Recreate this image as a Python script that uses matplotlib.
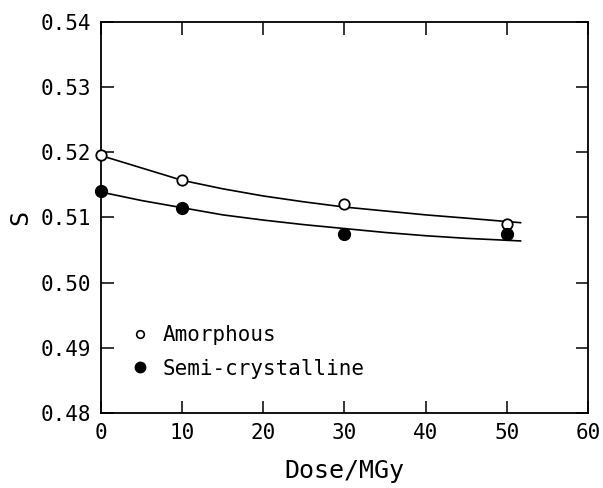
import numpy as np
import matplotlib.pyplot as plt
from matplotlib.lines import Line2D

# measured points
dose = [0, 10, 30, 50]
s_amorphous = [0.5196, 0.5158, 0.5121, 0.5090]
s_semi = [0.5141, 0.5115, 0.5075, 0.5074]

# fitted curves
fit_dose = [0, 5, 10, 15, 20, 25, 30, 35, 40, 45, 51.7]
fit_amorphous = [0.5195, 0.5176, 0.5157, 0.5144, 0.5133, 0.5124, 0.5116, 0.5110, 0.5104, 0.5099, 0.5092]
fit_semi = [0.5139, 0.5126, 0.5115, 0.5104, 0.5096, 0.5089, 0.5083, 0.5077, 0.5072, 0.5068, 0.5064]

plt.rcParams["font.family"] = "DejaVu Sans Mono"

fig = plt.figure(figsize=(6.03, 4.88), dpi=100)
ax = fig.add_axes([0.1675, 0.1537, 0.8075, 0.8013])

ax.plot(fit_dose, fit_amorphous, color='k', lw=1.2, zorder=2)
ax.plot(fit_dose, fit_semi, color='k', lw=1.2, zorder=2)
ax.plot(dose, s_amorphous, 'o', ms=7.5, mfc='white', mec='k', mew=1.3, zorder=3, clip_on=False)
ax.plot(dose, s_semi, 'o', ms=8.5, mfc='k', mec='k', zorder=3, clip_on=False)

ax.set_xlim(0, 60)
ax.set_ylim(0.48, 0.54)
ax.set_xticks(np.arange(0, 61, 10))
ax.set_yticks(np.arange(0.48, 0.5401, 0.01))
ax.set_yticklabels([f"{v:.2f}" for v in np.arange(0.48, 0.5401, 0.01)])
ax.tick_params(direction='in', length=9, width=1.1, top=True, right=True, labelsize=15)
ax.tick_params(axis='y', pad=7)
ax.tick_params(axis='x', pad=7)
for sp in ax.spines.values():
    sp.set_linewidth(1.3)

ax.set_xlabel('Dose/MGy', fontsize=18, labelpad=12)
ax.set_ylabel('S', fontsize=18, labelpad=6)

handles = [
    Line2D([], [], ls='none', marker='o', ms=5.5, mfc='white', mec='k', mew=1.2),
    Line2D([], [], ls='none', marker='o', ms=7.5, mfc='k', mec='k'),
]
ax.legend(handles, ['Amorphous', 'Semi-crystalline'], loc='lower left',
          bbox_to_anchor=(0.02, 0.04), frameon=False, fontsize=15,
          handlelength=1.0, handletextpad=0.6, labelspacing=0.65)

fig.savefig('out.png', dpi=100)
